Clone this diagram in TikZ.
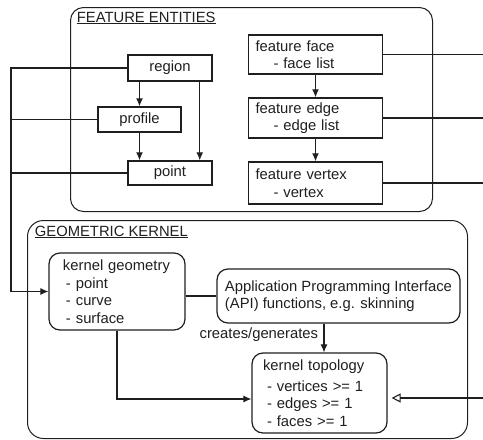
\documentclass[tikz,border=0pt]{standalone}
\usepackage{fontspec}
\setmainfont{Liberation Sans}
\usetikzlibrary{positioning,arrows.meta,calc}

\begin{document}
\begin{tikzpicture}[x=1pt,y=-1pt,>={Latex[length=8pt,width=7pt]},
	line width=1.1pt, color=black!88,
	every node/.style={font=\fontsize{14.8}{17.5}\selectfont},
	fbox/.style={draw,rectangle,line width=1.5pt,inner sep=0pt},
	rbox/.style={draw,rectangle,rounded corners=11pt,line width=1.2pt},
	frame/.style={draw,rectangle,line width=1pt,anchor=north west}]
	\useasboundingbox (0,0) rectangle (483,440);

	% the two frames
	\node[frame,rounded corners=13pt,minimum width=362pt,minimum height=204pt] 
		  (featframe) at (70,7) {};
	\node[frame,rounded corners=16pt,minimum width=440pt,minimum height=218pt] 
		  (kernframe) at (27,220) {};
	\node[anchor=west] (feattitle) at (73,18) {\underline{FEATURE ENTITIES}};
	\node[anchor=west] (kerntitle) at (31,232) {\underline{GEOMETRIC KERNEL}};

	% feature entities
	\node[fbox,minimum width=84pt,minimum height=26pt] (region) at (170,68) {region};
	\node[fbox,minimum width=83pt,minimum height=25pt] (profile) at (139.5,119.5) {profile};
	\node[fbox,minimum width=84pt,minimum height=24pt] (point) at (170,173) {point};
	\node[fbox,minimum height=39pt,inner xsep=7pt,text width=120pt,align=left] 
		  (face) at (315.5,54.5) {feature face\\\hspace*{18pt}- face list};
	\node[fbox,minimum height=40pt,inner xsep=7pt,text width=120pt,align=left] 
		  (edge) at (315.5,118) {feature edge\\\hspace*{18pt}- edge list};
	\node[fbox,minimum height=42pt,inner xsep=7pt,text width=120pt,align=left] 
		  (vertex) at (315.5,183) {feature vertex\\\hspace*{18pt}- vertex};

	% geometric kernel
	\node[rbox,minimum height=77pt,inner xsep=14pt,text width=108pt,align=left] 
		  (kgeom) at (117,291.5) 
		  {kernel geometry\\\hspace*{3pt}- point\\\hspace*{3pt}- curve\\\hspace*{3pt}- surface};
	\node[rbox,minimum width=243pt,minimum height=54pt,align=left] 
		  (api) at (338.5,296) 
		  {Application Programming Interface\\(API) functions, e.g. skinning};
	\node[rbox,minimum height=80pt,inner xsep=11pt,text width=113pt,align=left] 
		  (topo) at (319.5,393) 
		  {kernel topology\\[3pt]\hspace*{4pt}- vertices >= 1\\\hspace*{4pt}- edges >= 1\\\hspace*{4pt}- faces >= 1};

	\coordinate (bus) at (11,67);
	\coordinate (rim) at (483,0);

	\draw[->] (region.west) -- (region.west -| bus) |- (kgeom.west);
	\draw (profile.west) -- (profile.west -| bus);
	\draw (point.west) -- (point.west -| bus);
	\draw[->] (profile.north |- region.south) -- (profile.north);
	\draw[->] (profile.south) -- (profile.south |- point.north);
	\draw[->] ([xshift=-13pt]region.south east) -- ([xshift=-13pt]region.south east |- point.north);
	\draw[->] (face.south) -- (edge.north);
	\draw[->] (edge.south) -- (vertex.north);
	\draw (face.east) -- (face.east -| rim);
	\draw (edge.east) -- (edge.east -| rim);
	\draw (vertex.east) -- (vertex.east -| rim);
	\draw (api.west -| kgeom.east) -- (api.west);
	\draw[->] ([xshift=4.5pt]topo.north |- api.south) -- 
		  node[left,pos=0.4,xshift=-2pt]{creates/generates} ([xshift=4.5pt]topo.north);
	\draw[->] (kgeom.south) |- ([yshift=-6pt]topo.west);
	\draw[-{Triangle[open,length=9pt,width=9pt]}] ([yshift=-5pt]topo.east -| rim) -- ([xshift=4pt,yshift=-5pt]topo.east);
\end{tikzpicture}
\end{document}
